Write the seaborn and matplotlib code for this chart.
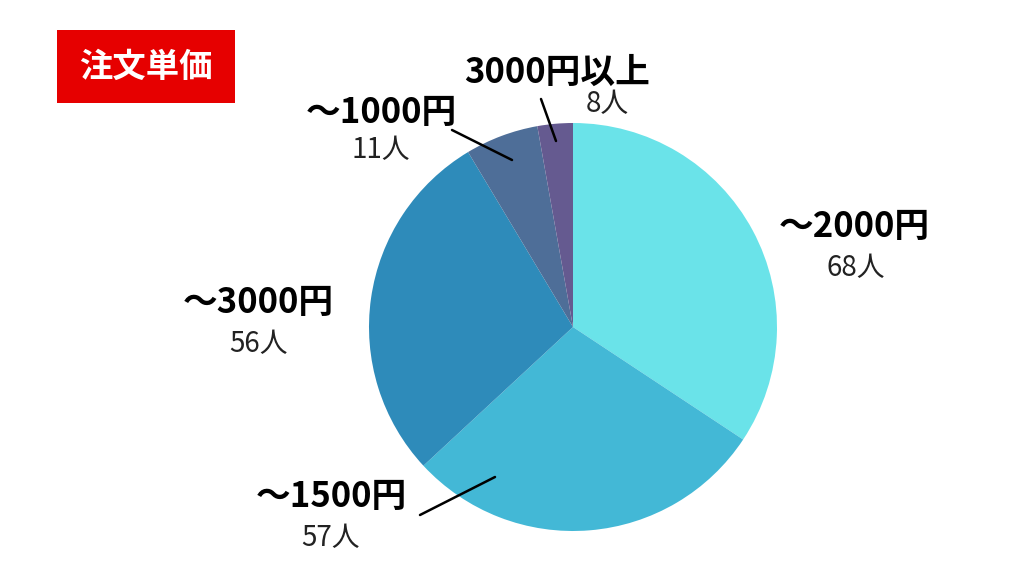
import matplotlib
matplotlib.use("Agg")
import matplotlib.pyplot as plt
from matplotlib.patches import Rectangle
from matplotlib.lines import Line2D
import seaborn as sns

categories = ["～2000円", "～1500円", "～3000円", "～1000円", "3000円以上"]
counts = [68, 57, 56, 11, 8]
count_labels = ["68人", "57人", "56人", "11人", "8人"]
# wedge sizes as drawn in the picture (measured angles, scaled to 200)
slice_shares = [68.6, 57.6, 56.6, 11.6, 5.6]
colors = ["#6AE3E9", "#43B8D6", "#2E8BBA", "#4E6E98", "#655A90"]
title = "注文単価"

sns.set_theme(style="white")
plt.rcParams['font.family'] = ['Noto Sans CJK JP', 'DejaVu Sans']

W, H = 1024, 576
fig = plt.figure(figsize=(W / 100, H / 100), dpi=100)
fig.patch.set_facecolor("white")

def fx(px):
    return px / W

def fy(py):
    return 1 - py / H

cx, cy, r = 573, 327, 204
ax = fig.add_axes([fx(cx - r), fy(cy + r), 2 * r / W, 2 * r / H])
ax.pie(slice_shares, colors=sns.color_palette(colors), startangle=90, counterclock=False,
       radius=1, wedgeprops=dict(linewidth=0))
ax.set_xlim(-1, 1)
ax.set_ylim(-1, 1)
ax.set_aspect("auto")
ax.axis("off")

# title box
fig.patches.append(Rectangle((fx(57), fy(103)), 178 / W, 73 / H, transform=fig.transFigure,
                             facecolor="#E60000", edgecolor="none"))
fig.text(fx(146), fy(67), title, color="white", fontsize=24, fontweight="bold",
         ha="center", va="center")

label_pos = [(854, 226), (331, 497), (258, 303), (381, 112), (557, 72)]
count_pos = [(856, 268), (330, 538), (258, 344), (381, 150), (607, 104)]
for cat, lab, (lx, ly), (kx, ky) in zip(categories, count_labels, label_pos, count_pos):
    fig.text(fx(lx), fy(ly), cat, fontsize=25, fontweight="bold", color="black",
             ha="center", va="center")
    fig.text(fx(kx), fy(ky), lab, fontsize=20, fontweight="normal", color="#222222",
             ha="center", va="center")

leaders = [((541, 99), (556, 141)), ((452, 130), (512, 160)), ((420, 515), (495, 477))]
for (x0, y0), (x1, y1) in leaders:
    fig.add_artist(Line2D([fx(x0), fx(x1)], [fy(y0), fy(y1)], transform=fig.transFigure,
                          color="black", linewidth=1.8))

fig.savefig("out.png", dpi=100)
